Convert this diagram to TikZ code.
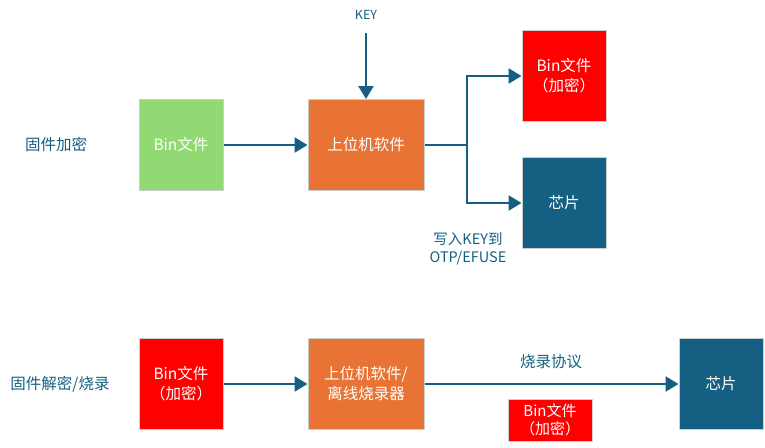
\documentclass[tikz,border=0pt]{standalone}
\usepackage{fontspec}
\setmainfont{Noto Sans CJK SC}
\usetikzlibrary{arrows.meta}
\definecolor{flowBlue}{RGB}{21, 96, 130}
\definecolor{binGreen}{RGB}{146, 217, 116}
\definecolor{toolOrange}{RGB}{233, 115, 52}
\definecolor{encRed}{RGB}{255, 0, 0}
\definecolor{edgeGray}{RGB}{205, 205, 205}

\begin{document}
\begin{tikzpicture}[x=1pt, y=-1pt, font=\fontsize{15.5}{20}\selectfont,
    box/.style={draw=edgeGray, line width=1pt, text=white, align=center, inner sep=0pt,
        minimum width=84pt, minimum height=91pt},
    wide/.style={box, minimum width=116pt},
    flow/.style={flowBlue, line width=2.5pt, -{Triangle[length=13pt, width=15pt]}},
    lab/.style={text=flowBlue, font=\fontsize{15.5}{20}\selectfont}]
    \useasboundingbox (0, 0) rectangle (765, 447);
    % Encryption row
    \node[lab] (encLabel) at (56, 145) {固件加密};
    \node[box, fill=binGreen] (binPlain) at (181, 145) {Bin文件};
    \node[wide, fill=toolOrange] (hostTop) at (366, 145) {上位机软件};
    \node[lab, font=\fontsize{12.5}{15}\selectfont] (keyLabel) at (366, 15) {KEY};
    \coordinate (keyStart) at (366, 33);
    \node[box, fill=encRed] (binEnc) at (564, 76) {Bin文件\\（加密）};
    \node[box, fill=flowBlue] (chipTop) at (564, 203) {芯片};
    \coordinate (split) at (467, 145);

    % Connectors
    \draw[flow] (binPlain) -- (hostTop);
    \draw[flow] (keyStart) -- (hostTop);
    \draw[flowBlue, line width=2.5pt] (hostTop) -- (split);
    \draw[flow] (split) |- (binEnc);
    \draw[flow] (split) |- (chipTop);
    \node[lab, align=center, font=\fontsize{14.5}{18}\selectfont] (otpNote) at (468, 249) {写入KEY到\\OTP/EFUSE};

    % Decryption / programming row
    \node[lab] (decLabel) at (60, 384) {固件解密/烧录};
    \node[box, fill=encRed] (binIn) at (181, 384) {Bin文件\\（加密）};
    \node[wide, fill=toolOrange] (hostBot) at (366, 384) {上位机软件/\\离线烧录器};
    \node[box, fill=flowBlue] (chipBot) at (721, 384) {芯片};
    \draw[flow] (binIn) -- (hostBot);
    \draw[flow] (hostBot) -- (chipBot);
    \node[lab] (protoLabel) at (551, 362) {烧录协议};
    \node[box, fill=encRed, minimum height=42pt, font=\fontsize{15}{18}\selectfont] (binPacket) at (550, 420) {Bin文件\\（加密）};
\end{tikzpicture}
\end{document}
